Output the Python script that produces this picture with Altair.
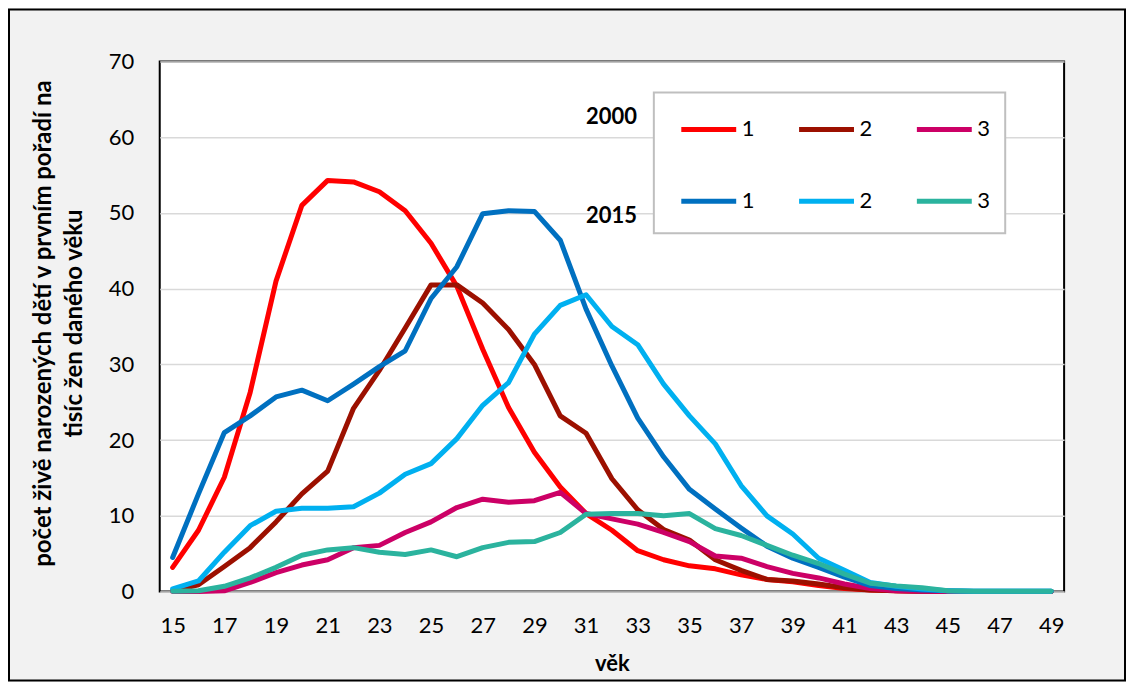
import altair as alt
import pandas as pd

ages = [15, 16, 17, 18, 19, 20, 21, 22, 23, 24, 25, 26, 27, 28, 29, 30, 31, 32,
        33, 34, 35, 36, 37, 38, 39, 40, 41, 42, 43, 44, 45, 46, 47, 48, 49]

s2000_1 = [3.2, 8.1, 15.1, 26.3, 41.0, 51.0, 54.3, 54.1, 52.8, 50.3, 46.0, 40.3,
           32.0, 24.3, 18.4, 13.8, 10.3, 8.1, 5.4, 4.2, 3.4, 3.0, 2.2, 1.6, 1.3,
           0.8, 0.4, 0.2, 0.1, 0.05, 0.02, 0.0, 0.0, 0.0, 0.0]
s2000_2 = [0.1, 0.9, 3.3, 5.8, 9.2, 12.9, 15.9, 24.2, 29.2, 34.8, 40.5, 40.5,
           38.1, 34.6, 30.0, 23.2, 20.9, 14.9, 10.8, 8.2, 6.8, 4.2, 2.8, 1.6, 1.4,
           1.0, 0.5, 0.2, 0.1, 0.05, 0.0, 0.0, 0.0, 0.0, 0.0]
s2000_3 = [0.0, 0.0, 0.1, 1.2, 2.5, 3.5, 4.2, 5.8, 6.1, 7.8, 9.2, 11.1,
           12.2, 11.8, 12.0, 13.1, 10.3, 9.6, 8.9, 7.8, 6.6, 4.7, 4.4, 3.3, 2.4,
           1.8, 1.0, 0.4, 0.1, 0.05, 0.0, 0.0, 0.0, 0.0, 0.0]
s2015_1 = [4.5, 12.9, 21.0, 23.2, 25.7, 26.6, 25.2, 27.4, 29.7, 31.8, 38.7, 42.9,
           49.9, 50.3, 50.2, 46.4, 37.3, 29.8, 22.9, 17.8, 13.5, 10.9, 8.4, 6.0, 4.4,
           3.2, 1.9, 0.8, 0.4, 0.2, 0.1, 0.05, 0.03, 0.03, 0.03]
s2015_2 = [0.35, 1.4, 5.2, 8.7, 10.6, 11.0, 11.0, 11.2, 13.0, 15.5, 16.9, 20.2,
           24.6, 27.6, 34.0, 37.8, 39.2, 35.0, 32.6, 27.4, 23.2, 19.5, 14.0, 10.0, 7.6,
           4.4, 2.8, 1.2, 0.7, 0.35, 0.1, 0.05, 0.03, 0.03, 0.03]
s2015_3 = [0.05, 0.1, 0.7, 1.8, 3.2, 4.8, 5.5, 5.8, 5.2, 4.9, 5.5, 4.6,
           5.8, 6.5, 6.6, 7.8, 10.2, 10.3, 10.3, 10.0, 10.3, 8.3, 7.4, 6.1, 4.8,
           3.7, 2.3, 1.1, 0.75, 0.5, 0.1, 0.05, 0.05, 0.05, 0.05]

series_keys = ["2000-1", "2000-2", "2000-3", "2015-1", "2015-2", "2015-3"]
series_values = [s2000_1, s2000_2, s2000_3, s2015_1, s2015_2, s2015_3]
series_colors = ["#ff0000", "#9c1000", "#cc0066", "#0070c0", "#00b0f0", "#2bb39e"]

x_ticks = [15, 17, 19, 21, 23, 25, 27, 29, 31, 33, 35, 37, 39, 41, 43, 45, 47, 49]
y_ticks = [0, 10, 20, 30, 40, 50, 60, 70]
row_labels = ["2000", "2015"]

rows = []
for key, vals in zip(series_keys, series_values):
    for a, v in zip(ages, vals):
        rows.append({"age": a, "value": v, "series": key})
df = pd.DataFrame(rows)

FONT = "Lato"

lines = alt.Chart(df).mark_line(strokeWidth=5, strokeJoin="round", strokeCap="round").encode(
    x=alt.X("age:Q",
            scale=alt.Scale(domain=[14.5, 49.5], nice=False, zero=False),
            axis=alt.Axis(values=x_ticks, grid=False, domain=False, ticks=False, tickSize=0,
                          labelPadding=24, labelFontSize=22, labelFont=FONT, labelColor="#000000",
                          title="věk", titleFont=FONT, titleFontSize=22, titleFontWeight="bold",
                          titleColor="#000000", titleY=72, titleBaseline="middle")),
    y=alt.Y("value:Q",
            scale=alt.Scale(domain=[0, 70], nice=False),
            axis=alt.Axis(values=y_ticks, grid=True, gridColor="#d9d9d9", gridWidth=1.5,
                          domain=False, ticks=False, tickSize=0, labelPadding=26,
                          labelFontSize=22, labelFont=FONT, labelColor="#000000",
                          title=["počet živě narozených dětí v prvním pořadí na",
                                 "tisíc žen daného věku"],
                          titleFont=FONT, titleFontSize=24, titleFontWeight="bold",
                          titleColor="#000000", titleLineHeight=31, titleX=-104, titleY=262,
                          titleAlign="center", titleBaseline="bottom", titleAngle=270)),
    color=alt.Color("series:N",
                    scale=alt.Scale(domain=series_keys, range=series_colors),
                    legend=alt.Legend(title=None, orient="none", legendX=520, legendY=38,
                                      columns=3, direction="horizontal", symbolType="stroke",
                                      symbolSize=3025, symbolStrokeWidth=5, columnPadding=34,
                                      rowPadding=31, labelFontSize=22, labelFont=FONT,
                                      labelColor="#000000", labelOffset=3, padding=0,
                                      gridAlign="all",
                                      labelExpr="slice(datum.label, -1)")),
    detail="series:N",
)

one = pd.DataFrame({"k": [0]})

legend_box = alt.Chart(one).mark_rect(fill="white", stroke="#bfbfbf", strokeWidth=2).encode(
    x=alt.value(495), x2=alt.value(847), y=alt.value(31), y2=alt.value(172)
)

txt = pd.DataFrame({"label": row_labels, "pos": [56, 155]})
row_text = alt.Chart(txt).mark_text(align="right", baseline="middle", font=FONT,
                                    fontSize=22, fontWeight="bold", color="#000000").encode(
    x=alt.value(478), y=alt.Y("pos:Q", scale=None), text="label:N"
)

outer = alt.Chart(one).mark_rect(fill=None, stroke="#000000", strokeWidth=2).encode(
    x=alt.value(-151), x2=alt.value(967), y=alt.value(-52), y2=alt.value(620)
)

chart = alt.layer(legend_box, lines, row_text, outer).properties(
    width=906, height=531,
    autosize="none",
    padding={"left": 152, "top": 53, "right": 62, "bottom": 90},
    background="#f2f2f2",
).configure_view(fill="white", stroke="#000000", strokeWidth=2)

chart.save("out.html", embed_options={"renderer": "svg", "actions": False})
